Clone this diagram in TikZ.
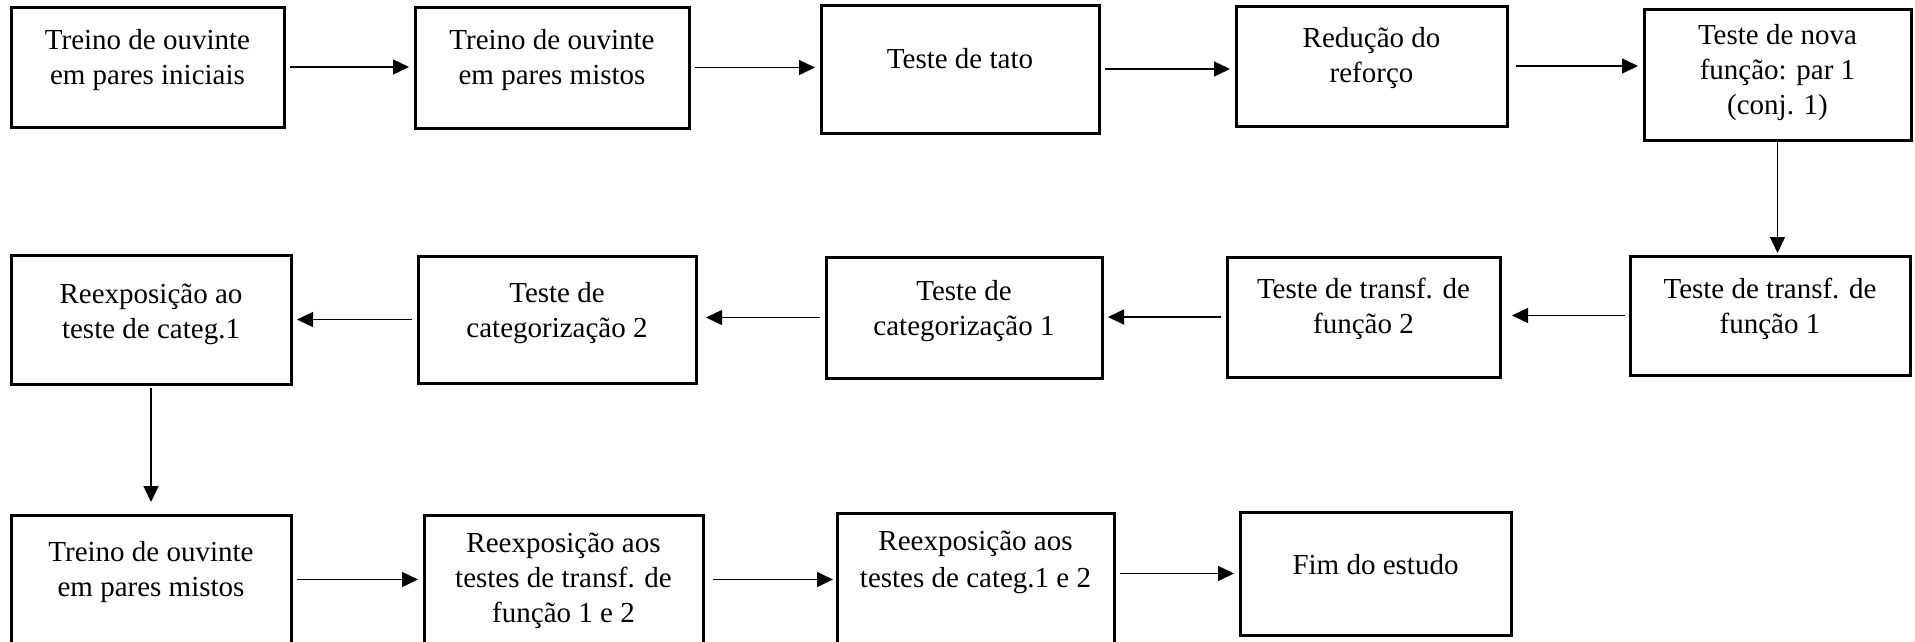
\documentclass[tikz,border=0pt]{standalone}
\usepackage{fontspec}
\setmainfont{Liberation Serif}
\usetikzlibrary{arrows.meta,calc}
% A framed step: name, left, top, right, bottom, text, baseline of first line
\newcommand\flowbox[7]{%
  \node[box, minimum width={#4-#2}, minimum height={#5-#3}] (#1) at ({(#2+#4)/2},{(#3+#5)/2}) {};
  \node[txt] (#1-t) at ({(#2+#4)/2},{#7-20}) {#6};
}
\begin{document}
\begin{tikzpicture}[x=1pt,y=-1pt,
  box/.style={draw, line width=3pt, inner sep=0pt, outer sep=0pt},
  txt/.style={anchor=north, align=center, inner sep=0pt, font=\fontsize{29}{35}\selectfont},
  flow/.style={line width=1.4pt, -{Triangle[length=16pt,width=15pt]}, shorten <=6pt, shorten >=6pt}]
\fill[white] (0,0) rectangle (1915,641);
\useasboundingbox (0,0) rectangle (1915,641);
\clip (0,0) rectangle (1915,641);

% first row
\flowbox{b1}{11}{7}{284}{127}{Treino de ouvinte\\em pares iniciais}{49}
\flowbox{b2}{415}{7}{689}{128}{Treino de ouvinte\\em pares mistos}{49}
\flowbox{b3}{821}{5}{1099}{133}{Teste de tato}{68}
\flowbox{b4}{1236}{6}{1507}{126}{Redução do\\reforço}{47}
\flowbox{b5}{1644}{9}{1911}{140}{Teste de nova\\função: par 1\\(conj. 1)}{44}

% second row (right to left)
\flowbox{c1}{1630}{256}{1910}{375}{Teste de transf. de\\função 1}{298}
\flowbox{c2}{1227}{257}{1500}{377}{Teste de transf. de\\função 2}{298}
\flowbox{c3}{826}{257}{1102}{378}{Teste de\\categorização 1}{300}
\flowbox{c4}{418}{256}{696}{383}{Teste de\\categorização 2}{302}
\flowbox{c5}{11}{255}{291}{384}{Reexposição ao\\teste de categ.1}{304}

% third row
\flowbox{d1}{11}{515}{291}{644}{Treino de ouvinte\\em pares mistos}{561}
\flowbox{d2}{424}{515}{703}{644}{Reexposição aos\\testes de transf. de\\função 1 e 2}{553}
\flowbox{d3}{837}{513}{1114}{644}{Reexposição aos\\[2pt]testes de categ.1 e 2}{551}
\flowbox{d4}{1240}{512}{1511}{635}{Fim do estudo}{574}

% connectors
\draw[flow] (b1.east) -- (b1.east -| b2.west);
\draw[flow] (b2.east) -- (b2.east -| b3.west);
\draw[flow] (b3.east) -- (b3.east -| b4.west);
\draw[flow, shorten <=9pt] (b4.east) -- (b4.east -| b5.west);
\draw[flow, shorten <=0pt, shorten >=3pt] (b5.south) -- (b5.south |- c1.north);
\draw[flow, shorten <=5pt, shorten >=12pt] (c1.west) -- (c1.west -| c2.east);
\draw[flow] (c2.west) -- (c2.west -| c3.east);
\draw[flow, shorten >=10pt] (c3.west) -- (c3.west -| c4.east);
\draw[flow] (c4.west) -- (c4.west -| c5.east);
\draw[flow, shorten <=4pt, shorten >=13pt] (c5.south) -- (c5.south |- d1.north);
\draw[flow] (d1.east) -- (d1.east -| d2.west);
\draw[flow, shorten <=10pt, shorten >=4pt] (d2.east) -- (d2.east -| d3.west);
\draw[flow] (d3.east |- d4.west) -- (d4.west);
\end{tikzpicture}
\end{document}
